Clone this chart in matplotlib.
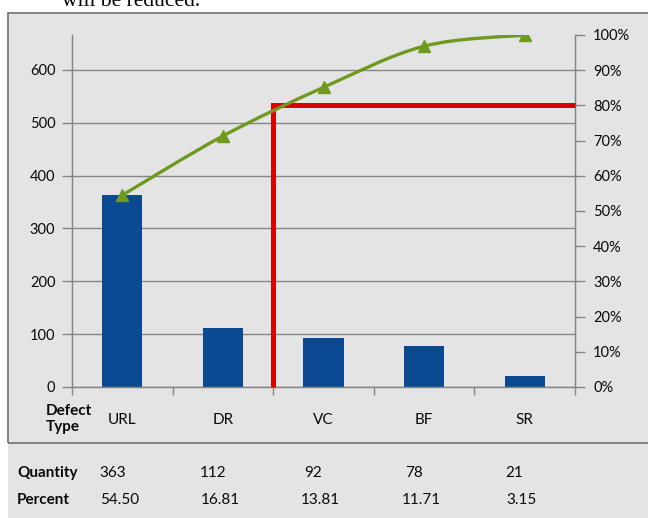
import numpy as np
import matplotlib
matplotlib.use("Agg")
import matplotlib.pyplot as plt
from matplotlib.path import Path
from matplotlib.patches import PathPatch, Rectangle
from matplotlib import transforms

# Pareto data: defect types and their counts
categories = ["URL", "DR", "VC", "BF", "SR"]
quantity = [363, 112, 92, 78, 21]
percent = [54.50, 16.81, 13.81, 11.71, 3.15]
percent_labels = ["54.50", "16.81", "13.81", "11.71", "3.15"]
left_ticks = [0, 100, 200, 300, 400, 500, 600]
right_ticks = [0.0, 0.1, 0.2, 0.3, 0.4, 0.5, 0.6, 0.7, 0.8, 0.9, 1.0]
cutoff = 0.80

plt.rcParams['font.family'] = ['Lato', 'DejaVu Sans']

W, H = 648, 518
fig = plt.figure(figsize=(W / 100, H / 100), dpi=100)
fig.patch.set_facecolor('white')


def fx(px):
    return px / W


def fy(py):
    return 1 - py / H


BG = '#e4e4e4'
GRID = '#868686'
BAR = '#0b4a92'
GREEN = '#6f9a1f'
RED = '#dd0000'
TXT = '#0a0a0a'
FS_TICK = 10.5
FS_LBL = 11

# grey panel and frame
fig.add_artist(Rectangle((fx(8), 0), 1 - fx(8), fy(13), transform=fig.transFigure,
                         facecolor=BG, edgecolor='none', zorder=0))
fig.add_artist(Rectangle((fx(8), fy(443)), 1, fy(13) - fy(443), transform=fig.transFigure,
                         facecolor='none', edgecolor='#7a7a7a', lw=1.3, zorder=1))

# caption line above the chart (runs off the top edge)
fig.text(fx(62), fy(6.5), "will be reduced.", family='Liberation Serif', size=15.5,
         va='baseline', ha='left', color='black')

ax = fig.add_axes([fx(72), fy(387), fx(575) - fx(72), fy(35) - fy(387)])
ax.set_facecolor('none')
total = sum(quantity)
x = np.arange(len(categories))

ax.bar(x, quantity, width=0.4, color=BAR, zorder=2)
ax.set_xlim(-0.5, len(categories) - 0.5)
ax.set_ylim(0, total)
ax.set_yticks(left_ticks)
ax.grid(axis='y', color=GRID, lw=1.0, zorder=1)
ax.set_axisbelow(True)

ax.set_xticks(np.arange(-0.5, len(categories)))
ax.set_xticklabels([])
ax.set_xticks(x, minor=True)
ax.set_xticklabels(categories, minor=True)
ax.tick_params(axis='x', which='major', direction='out', length=6, width=1, color=GRID)
ax.tick_params(axis='x', which='minor', length=0, pad=19, labelsize=FS_LBL, labelcolor=TXT)
ax.tick_params(axis='y', direction='out', length=7, width=1, color=GRID,
               labelsize=FS_TICK, labelcolor=TXT, pad=5)
ax.spines['top'].set_visible(False)
for s in ['left', 'right', 'bottom']:
    ax.spines[s].set_color(GRID)
    ax.spines[s].set_linewidth(1.0)

ax2 = ax.twinx()
ax2.set_ylim(0, 1)
ax2.set_yticks(right_ticks)
ax2.set_yticklabels([f"{int(round(t * 100))}%" for t in right_ticks])
ax2.tick_params(axis='y', direction='out', length=7, width=1, color=GRID,
                labelsize=FS_TICK, labelcolor=TXT, pad=6)
ax2.spines['top'].set_visible(False)
for s in ['left', 'right', 'bottom']:
    ax2.spines[s].set_color(GRID)

# 80% cutoff marker
ax2.plot([1.5, 1.5, len(categories) - 0.5], [0, cutoff, cutoff], color=RED, lw=3.6,
         solid_joinstyle='miter', solid_capstyle='butt', zorder=3, clip_on=False)

# cumulative percentage, smoothed line with triangle markers
cum = np.cumsum(percent) / 100.0
pts = np.column_stack([x, cum])
ext = np.vstack([pts[0], pts, pts[-1]])
verts = [tuple(pts[0])]
codes = [Path.MOVETO]
for i in range(len(pts) - 1):
    p0, p1, p2, p3 = ext[i], ext[i + 1], ext[i + 2], ext[i + 3]
    c1 = p1 + (p2 - p0) / 6.0
    c2 = p2 - (p3 - p1) / 6.0
    verts += [tuple(c1), tuple(c2), tuple(p2)]
    codes += [Path.CURVE4] * 3
ax2.add_patch(PathPatch(Path(verts, codes), facecolor='none', edgecolor=GREEN,
                        lw=2.4, zorder=4, capstyle='round'))
ax2.plot(x, cum, linestyle='none', marker='^', markersize=9, color=GREEN, zorder=5)

fig.text(fx(46), fy(419), "Defect\nType", ha='left', va='center', weight='bold',
         size=FS_LBL, color=TXT, linespacing=1.2, multialignment='left')

# data table below the chart
blend = transforms.blended_transform_factory(ax.transData, fig.transFigure)
fig.text(fx(17), fy(473), "Quantity", ha='left', va='center', weight='bold', size=FS_LBL, color=TXT)
fig.text(fx(17), fy(500), "Percent", ha='left', va='center', weight='bold', size=FS_LBL, color=TXT)
for i, (q, p) in enumerate(zip(quantity, percent_labels)):
    fig.text(i - 0.1, fy(473), str(q), transform=blend, ha='center', va='center',
             size=FS_LBL, color=TXT)
    fig.text(i - 0.03, fy(500), p, transform=blend, ha='center', va='center',
             size=FS_LBL, color=TXT)

fig.savefig("out.png", dpi=100, facecolor=fig.get_facecolor())
